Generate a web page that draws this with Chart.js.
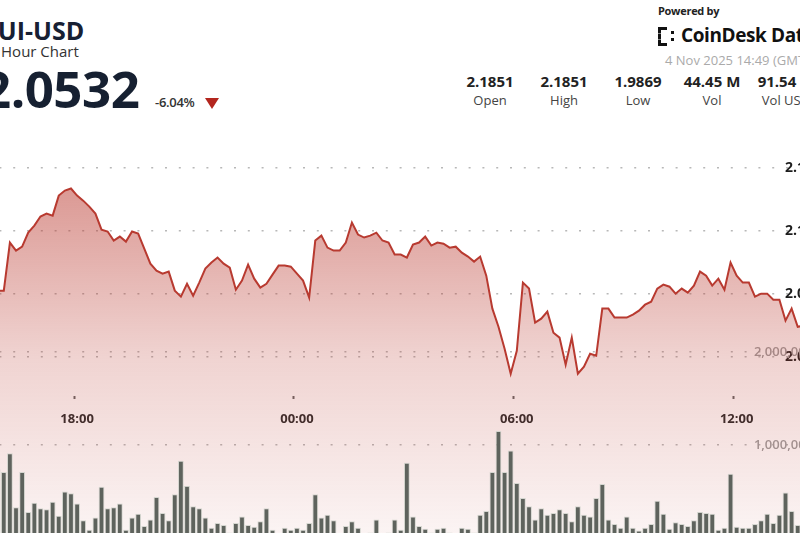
<!DOCTYPE html>
<html>
<head>
<meta charset="utf-8">
<script src="https://cdn.jsdelivr.net/npm/chart.js@4.4.1/dist/chart.umd.min.js"></script>
<style>
  html, body { margin: 0; padding: 0; width: 800px; height: 533px; overflow: hidden; background: #fff; font-family: "Open Sans", sans-serif; }
  #wrap { position: relative; width: 800px; height: 533px; overflow: hidden; }
  .t { position: absolute; white-space: nowrap; line-height: 1; }
  .stat { position: absolute; width: 74px; text-align: center; white-space: nowrap; line-height: 1; }
  #chartBox { position: absolute; left: -42px; top: 136px; width: 855px; height: 402px; }
</style>
</head>
<body>
<div id="wrap">
  <div class="t" style="left:-16px;top:18px;font-size:25px;font-weight:700;color:#172033;">SUI-USD</div>
  <div class="t" style="left:-20px;top:44px;font-size:15px;color:#333;">24 Hour Chart</div>
  <div class="t" style="left:-18px;top:63px;font-size:51px;font-weight:700;color:#162031;letter-spacing:-0.5px;">2.0532</div>
  <div class="t" style="left:155px;top:96px;font-size:13px;font-weight:600;color:#333;letter-spacing:-0.3px;">-6.04%</div>
  <div style="position:absolute;left:205px;top:98px;width:0;height:0;border-left:7px solid transparent;border-right:7px solid transparent;border-top:11px solid #b3261e;"></div>

  <div class="stat" style="left:453px;top:74px;font-size:15px;font-weight:700;color:#222;">2.1851</div>
  <div class="stat" style="left:527px;top:74px;font-size:15px;font-weight:700;color:#222;">2.1851</div>
  <div class="stat" style="left:601px;top:74px;font-size:15px;font-weight:700;color:#222;">1.9869</div>
  <div class="stat" style="left:675px;top:74px;font-size:15px;font-weight:700;color:#222;">44.45 M</div>
  <div class="stat" style="left:749px;top:74px;font-size:15px;font-weight:700;color:#222;">91.54 M</div>
  <div class="stat" style="left:453px;top:94px;font-size:13px;color:#444;">Open</div>
  <div class="stat" style="left:527px;top:94px;font-size:13px;color:#444;">High</div>
  <div class="stat" style="left:601px;top:94px;font-size:13px;color:#444;">Low</div>
  <div class="stat" style="left:675px;top:94px;font-size:13px;color:#444;">Vol</div>
  <div class="stat" style="left:749px;top:94px;font-size:13px;color:#444;">Vol USD</div>

  <div class="t" style="left:658px;top:5px;font-size:11px;font-weight:700;color:#222;letter-spacing:-0.3px;">Powered by</div>
  <div style="position:absolute;left:658px;top:27px;width:6px;height:13px;border:3px dashed #111;border-right:none;"></div>
  <div style="position:absolute;left:671px;top:31px;width:3px;height:3px;background:#111;"></div>
  <div style="position:absolute;left:671px;top:38px;width:3px;height:3px;background:#111;"></div>
  <div class="t" style="left:681px;top:26px;font-size:19px;font-weight:700;color:#111;letter-spacing:-0.4px;">CoinDesk Data</div>
  <div class="t" style="left:665px;top:54px;font-size:13px;color:#aaa;">4 Nov 2025 14:49 (GMT)</div>

  <div id="chartBox"><canvas id="priceChart" width="855" height="402"></canvas></div>
</div>

<script>
// 10 minute candles, 14:50 (3 Nov) to 14:00 (4 Nov)
const timeLabels = [];
for (let i = 0; i < 140; i++) {
    const m = (14 * 60 + 50 + i * 10) % 1440;
    timeLabels.push(String(Math.floor(m / 60)).padStart(2, '0') + ':' + String(m % 60).padStart(2, '0'));
}
const tickLabels = ['18:00', '00:00', '06:00', '12:00'];
const priceTicks = [2.04, 2.08, 2.12, 2.16];
const volumeTicks = [1000000, 2000000];

const prices = [
    2.0806, 2.0832, 2.0787, 2.0819, 2.0844, 2.0806,
    2.0819, 2.0819, 2.1124, 2.1073, 2.1098, 2.1187, 2.1232, 2.1289, 2.1308, 2.1295, 2.1422, 2.1454, 2.1467,
    2.1422, 2.1390, 2.1352, 2.1308, 2.1206, 2.1194, 2.1137, 2.1162, 2.1130, 2.1194,
    2.1181, 2.1086, 2.0990, 2.0946, 2.0927, 2.0940, 2.0819, 2.0781, 2.0863, 2.0787,
    2.0870, 2.0959, 2.0997, 2.1029, 2.0990, 2.0965, 2.0825, 2.0883, 2.0984, 2.0895,
    2.0838, 2.0863, 2.0921, 2.0978, 2.0978, 2.0971, 2.0927, 2.0883, 2.0775, 2.1137,
    2.1168, 2.1092, 2.1073, 2.1073, 2.1124, 2.1251, 2.1175, 2.1156, 2.1168, 2.1187,
    2.1137, 2.1124, 2.1048, 2.1048, 2.1029, 2.1111, 2.1124, 2.1162, 2.1105, 2.1124,
    2.1117, 2.1092, 2.1098, 2.1060, 2.1035, 2.1003, 2.1035, 2.0914, 2.0705, 2.0590,
    2.0451, 2.0292, 2.0438, 2.0870, 2.0832, 2.0616, 2.0641, 2.0686, 2.0552, 2.0521,
    2.0349, 2.0521, 2.0292, 2.0337, 2.0419, 2.0406, 2.0705, 2.0705, 2.0648, 2.0648,
    2.0648, 2.0667, 2.0692, 2.0730, 2.0749, 2.0832, 2.0857, 2.0844, 2.0800, 2.0832,
    2.0806, 2.0851, 2.0940, 2.0914, 2.0851, 2.0895, 2.0825, 2.0997, 2.0914, 2.0870,
    2.0870, 2.0781, 2.0800, 2.0800, 2.0762, 2.0762, 2.0629, 2.0705, 2.0590,
    2.0597, 2.0565
];

const volumes = [
    350000, 280000, 500000, 300000, 420000, 600000,
    740000, 710000, 910000, 330000, 710000, 280000, 380000, 320000, 310000, 390000, 240000, 500000, 480000,
    370000, 190000, 90000, 220000, 550000, 320000, 330000, 370000, 90000, 220000,
    260000, 130000, 200000, 440000, 270000, 190000, 470000, 830000, 560000, 340000,
    320000, 220000, 110000, 160000, 140000, 60000, 160000, 230000, 140000, 120000,
    180000, 320000, 90000, 20000, 110000, 90000, 110000, 90000, 160000, 470000,
    220000, 250000, 190000, 50000, 130000, 180000, 110000, 20000, 60000, 200000,
    30000, 60000, 200000, 90000, 810000, 230000, 130000, 100000, 60000, 100000,
    110000, 60000, 20000, 110000, 100000, 60000, 250000, 290000, 710000, 1150000,
    710000, 940000, 590000, 430000, 340000, 200000, 320000, 250000, 270000, 310000,
    270000, 180000, 340000, 250000, 230000, 430000, 580000, 200000, 150000, 110000,
    230000, 110000, 80000, 110000, 150000, 400000, 260000, 100000, 170000, 150000,
    130000, 190000, 280000, 270000, 260000, 90000, 110000, 690000, 120000, 110000,
    110000, 150000, 190000, 260000, 160000, 250000, 490000, 290000, 140000,
    200000, 150000
];

const ctx = document.getElementById('priceChart').getContext('2d');

const dotted = { display: false, dash: [2, 11.8] };
// right axes sit on top of the plot, so they must not take any room
const flatAxis = (s) => { s.width = 0; s.paddingTop = 0; s.paddingBottom = 0; };

const priceChart = new Chart(ctx, {
    data: {
        labels: timeLabels,
        datasets: [{
            type: 'bar',
            label: 'Volume',
            data: volumes,
            yAxisID: 'yv',
            backgroundColor: '#5e635d',
            borderColor: 'rgba(210,212,205,0.9)',
            borderWidth: 1,
            barPercentage: 1,
            categoryPercentage: 0.95,
            order: 0,
        }, {
            type: 'line',
            label: 'SUI-USD',
            data: prices,
            yAxisID: 'y',
            borderColor: '#b83a30',
            borderWidth: 2,
            pointRadius: 0,
            tension: 0,
            fill: 'start',
            backgroundColor: (c) => {
                const area = c.chart.chartArea;
                if (!area) return 'rgba(185,55,45,0.3)';
                const g = c.chart.ctx.createLinearGradient(0, area.top, 0, area.bottom);
                g.addColorStop(0, 'rgba(185,55,45,0.6)');
                g.addColorStop(0.55, 'rgba(185,55,45,0.22)');
                g.addColorStop(1, 'rgba(185,55,45,0.05)');
                return g;
            },
            order: 1,
        }],
    },
    options: {
        responsive: false,
        animation: false,
        devicePixelRatio: 1,
        layout: { padding: 0 },
        plugins: { legend: { display: false }, tooltip: { enabled: false } },
        scales: {
            x: {
                type: 'category',
                offset: true,
                position: { y: 2.0151 },
                afterFit: (s) => { s.paddingLeft = 0; s.paddingRight = 0; },
                border: { display: false },
                grid: {
                    drawOnChartArea: false,
                    drawTicks: true,
                    tickLength: 3,
                    tickWidth: 2,
                    tickColor: (c) => tickLabels.includes(timeLabels[c.index]) ? '#666' : 'rgba(0,0,0,0)',
                },
                ticks: {
                    autoSkip: false,
                    maxRotation: 0,
                    minRotation: 0,
                    padding: 13,
                    color: '#2b2b2b',
                    font: { family: 'Open Sans', size: 13, weight: 'bold' },
                    callback: (v, i) => tickLabels.includes(timeLabels[i]) ? timeLabels[i] : '',
                },
            },
            y: {
                position: 'right',
                min: 1.925,
                max: 2.18,
                afterBuildTicks: (s) => { s.ticks = priceTicks.map(v => ({ value: v })); },
                afterFit: flatAxis,
                border: dotted,
                grid: { color: '#b8b8b8', lineWidth: 1.5, drawTicks: false },
                ticks: {
                    mirror: true,
                    padding: 0,
                    color: '#1d1d1d',
                    font: { family: 'Open Sans', size: 14, weight: 'bold' },
                    callback: (v) => Number(v).toFixed(2),
                },
            },
            yv: {
                position: 'right',
                min: 0,
                max: 4320000,
                afterBuildTicks: (s) => { s.ticks = volumeTicks.map(v => ({ value: v })); },
                afterFit: flatAxis,
                border: dotted,
                grid: { color: '#b8b8b8', lineWidth: 1.5, drawTicks: false },
                ticks: {
                    mirror: true,
                    padding: 0,
                    color: '#9f9f9f',
                    font: { family: 'Open Sans', size: 13, weight: '600' },
                    callback: (v) => Number(v).toLocaleString('en-US'),
                },
            },
        },
    },
});
</script>
</body>
</html>
